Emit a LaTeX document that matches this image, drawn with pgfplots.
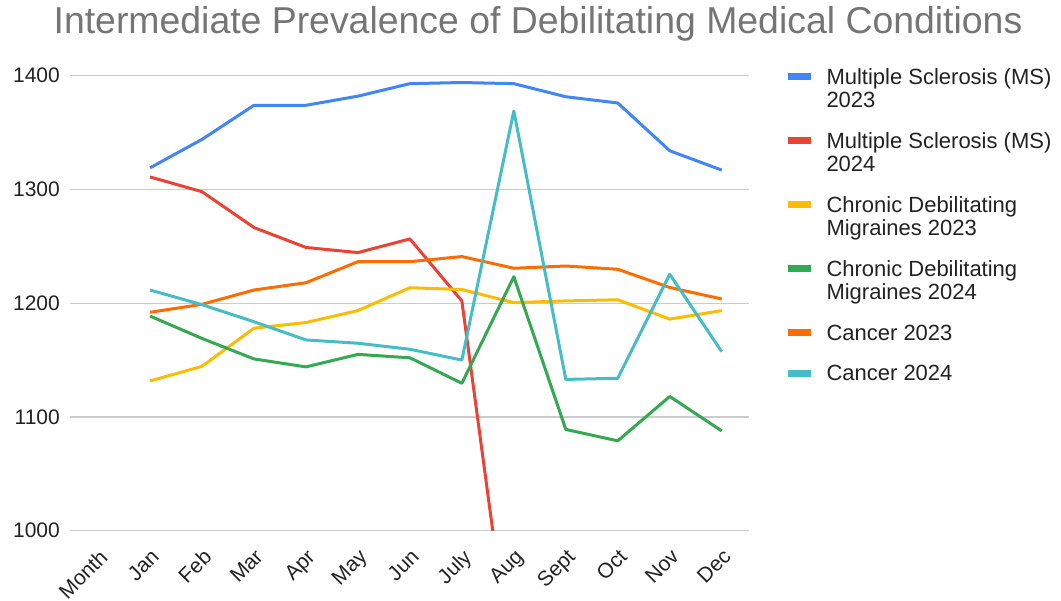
\documentclass[border=0pt]{standalone}
\usepackage{fontspec}
\setmainfont{Liberation Sans}
\usepackage{pgfplots}
\pgfplotsset{compat=1.18}
\definecolor{cblue}{HTML}{4285F4}
\definecolor{cred}{HTML}{EA4335}
\definecolor{cyellow}{HTML}{FBBC04}
\definecolor{cgreen}{HTML}{34A853}
\definecolor{corange}{HTML}{FF6D01}
\definecolor{cteal}{HTML}{46BDC6}
\definecolor{titlegray}{HTML}{757575}
\definecolor{gridgray}{HTML}{CCCCCC}
\definecolor{txt}{HTML}{222222}
\newcommand\legtab[1]{\begin{tabular}[t]{@{}l@{}}#1\end{tabular}}
\begin{document}
\begin{tikzpicture}
\useasboundingbox (0,0) rectangle (1061bp,601bp);
\node[anchor=base, font=\fontsize{37.4bp}{44bp}\selectfont, text=titlegray, inner sep=0pt] at (538bp,567.7bp) {Intermediate Prevalence of Debilitating Medical Conditions};
\begin{axis}[
  at={(70bp,70.3bp)}, anchor=south west,
  scale only axis, width=679bp, height=455bp,
  xmin=-0.54, xmax=12.525, ymin=1000, ymax=1400,
  xtick={0,...,12},
  xticklabels={Month,Jan,Feb,Mar,Apr,May,Jun,July,Aug,Sept,Oct,Nov,Dec},
  ytick={1000,1100,1200,1300,1400},
  ymajorgrids, grid style={gridgray, line width=1.2bp},
  axis line style={draw=none},
  major tick length=0pt,
  /pgf/number format/assume math mode=true,
  /pgf/number format/1000 sep={},
  tick label style={font=\fontsize{21bp}{25bp}\selectfont, text=txt, inner sep=0pt},
  yticklabel style={anchor=east, xshift=-10bp},
  xticklabel style={yshift=-17bp, rotate=45, anchor=north east},
  every axis plot/.append style={line width=3bp, line join=round, no markers},
  legend style={at={(1,1)}, anchor=north west, xshift=36bp, yshift=8bp,
    draw=none, fill=none, inner sep=0pt, outer sep=0pt,
    font=\fontsize{22bp}{23.3bp}\selectfont, text=txt,
    nodes={inner sep=0pt, outer sep=0pt, text depth=},
    cells={anchor=base west},
    row sep=17.4bp, column sep=12bp},
  legend image code/.code={\draw[#1, line width=6.5bp, line cap=butt] (0bp,7.3bp) -- (23bp,7.3bp);},
]
\addplot[cblue] coordinates {(1,1319) (2,1344) (3,1374) (4,1374) (5,1382) (6,1393) (7,1394) (8,1393) (9,1381.5) (10,1376) (11,1334) (12,1317)};
\addlegendentry{\legtab{Multiple Sclerosis (MS)\\2023}}
\addplot[cred] coordinates {(1,1311) (2,1298) (3,1266.5) (4,1249) (5,1244.5) (6,1256.5) (7,1202) (8,862)};
\addlegendentry{\legtab{Multiple Sclerosis (MS)\\2024}}
\addplot[cyellow] coordinates {(1,1131.6) (2,1144.5) (3,1178) (4,1183) (5,1193.5) (6,1213.6) (7,1212) (8,1200.5) (9,1202) (10,1203) (11,1186) (12,1193.5)};
\addlegendentry{\legtab{Chronic Debilitating\\Migraines 2023}}
\addplot[cgreen] coordinates {(1,1188.7) (2,1169) (3,1151) (4,1144) (5,1155) (6,1152) (7,1129.6) (8,1223.3) (9,1089) (10,1079) (11,1118) (12,1087.7)};
\addlegendentry{\legtab{Chronic Debilitating\\Migraines 2024}}
\addplot[corange] coordinates {(1,1192) (2,1199) (3,1211.6) (4,1218) (5,1236.5) (6,1236.5) (7,1241) (8,1230.7) (9,1232.7) (10,1229.8) (11,1213.8) (12,1203.7)};
\addlegendentry{\legtab{Cancer 2023}}
\addplot[cteal] coordinates {(1,1211.6) (2,1198.7) (3,1183.7) (4,1167.7) (5,1164.8) (6,1159.5) (7,1150) (8,1369) (9,1133) (10,1134) (11,1225.4) (12,1157.4)};
\addlegendentry{\legtab{Cancer 2024}}
\end{axis}
\end{tikzpicture}
\end{document}
